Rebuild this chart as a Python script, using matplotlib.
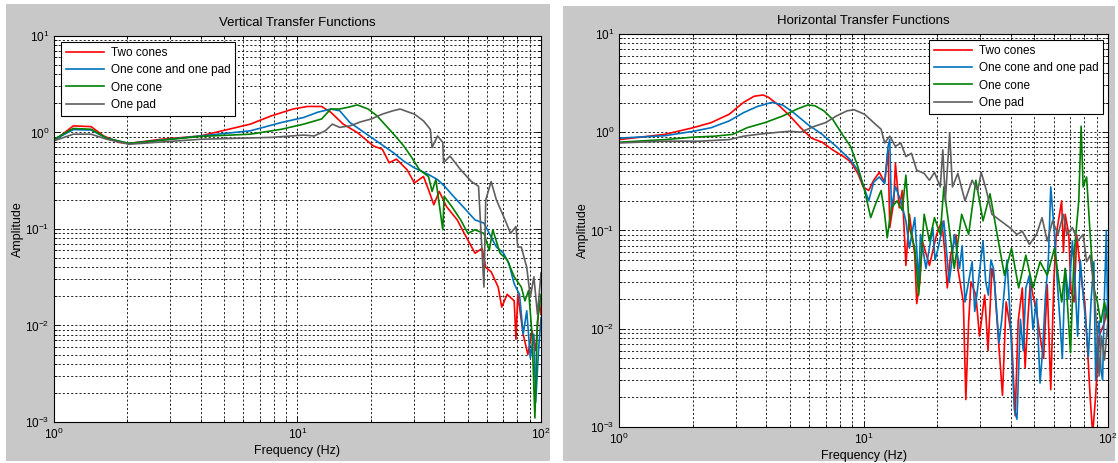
import matplotlib
matplotlib.use('Agg')
import matplotlib.pyplot as plt
from matplotlib.patches import Rectangle
from matplotlib.ticker import NullFormatter, LogLocator

plt.rcParams['font.family'] = ['Liberation Sans', 'DejaVu Sans']
plt.rcParams['mathtext.default'] = 'regular'

labels = ['Two cones', 'One cone and one pad', 'One cone', 'One pad']
colors = ['#ff0000', '#0072bd', '#008000', '#5f5f5f']

# ---- vertical transfer functions ----
v_red_f = [1.0, 1.20, 1.42, 1.60, 1.84, 2.03, 2.75, 3.99, 5.22, 6.40, 7.83, 9.59, 10.97, 12.56, 13.7,
           15.4, 17.6, 20.5, 22.3, 23.8, 25.5, 28.2, 30.2, 32.9, 34.5, 36.3, 38.2, 40.9, 45.3, 48.4,
           53.6, 57.3, 59.3, 62.4, 66.7, 69.0, 72.6, 77.6, 78.9, 80.3, 84.5, 88.3, 91.9, 95.1, 98.3, 100]
v_red_a = [0.82, 1.17, 1.15, 0.92, 0.79, 0.77, 0.85, 0.92, 1.08, 1.22, 1.49, 1.75, 1.86, 1.86, 1.62,
           1.22, 1.0, 0.725, 0.67, 0.486, 0.53, 0.41, 0.30, 0.35, 0.256, 0.178, 0.245, 0.171, 0.124, 0.090,
           0.056, 0.063, 0.040, 0.036, 0.025, 0.0155, 0.021, 0.018, 0.0072, 0.021, 0.0081, 0.005, 0.0088, 0.0055, 0.018, 0.013]

v_blue_f = [1.0, 1.20, 1.42, 1.65, 2.03, 3.99, 6.40, 8.6, 10.6, 12.1, 13.7, 14.9, 16.4, 18.8, 21.5,
            24.7, 27.3, 30.2, 34.5, 37.6, 40.2, 43.7, 48.4, 53.6, 58.3, 61.3, 65.6, 70.2, 73.8, 77.6,
            81.6, 84.5, 87.4, 90.4, 93.5, 95.1, 97.7, 100]
v_blue_a = [0.84, 1.07, 1.06, 0.87, 0.77, 0.92, 1.04, 1.27, 1.43, 1.62, 1.75, 1.68, 1.27, 1.0, 0.79,
            0.62, 0.505, 0.43, 0.367, 0.325, 0.277, 0.218, 0.165, 0.124, 0.115, 0.09, 0.065, 0.056, 0.044, 0.027,
            0.021, 0.0081, 0.0142, 0.0046, 0.0081, 0.0016, 0.0055, 0.012]

v_green_f = [1.0, 1.20, 1.42, 1.65, 2.03, 3.99, 6.40, 8.6, 10.6, 12.56, 13.7, 14.9, 16.2, 17.6, 19.5,
             21.2, 23.8, 25.5, 27.3, 29.2, 31.7, 34.5, 35.7, 37.0, 39.5, 40.0, 43.0, 46.8, 50.1, 53.6,
             58.3, 61.3, 63.4, 67.9, 72.6, 77.6, 83.0, 85.9, 88.9, 91.9, 94.4, 96.7, 100]
v_green_a = [0.85, 1.10, 1.08, 0.87, 0.77, 0.91, 0.96, 1.08, 1.22, 1.38, 1.75, 1.75, 1.83, 1.93, 1.75,
             1.49, 1.08, 0.89, 0.725, 0.57, 0.41, 0.35, 0.245, 0.325, 0.098, 0.218, 0.171, 0.124, 0.09, 0.098,
             0.09, 0.06, 0.098, 0.056, 0.048, 0.032, 0.025, 0.018, 0.023, 0.0081, 0.0011, 0.011, 0.021]

v_grey_f = [1.0, 1.20, 1.42, 1.65, 2.03, 3.99, 7.83, 10.6, 11.7, 13.0, 13.9, 14.9, 16.4, 18.2, 20.1,
            22.3, 24.7, 26.4, 28.7, 30.2, 32.9, 35.1, 35.7, 37.6, 39.5, 39.8, 42.3, 46.8, 51.8, 55.4,
            58.3, 59.3, 62.4, 65.6, 70.2, 75.0, 78.9, 80.3, 83.0, 87.4, 90.4, 93.5, 96.7, 100]
v_grey_a = [0.82, 0.96, 0.96, 0.85, 0.755, 0.85, 0.89, 0.94, 0.92, 1.04, 1.22, 1.13, 1.17, 1.29, 1.38,
            1.55, 1.68, 1.75, 1.62, 1.55, 1.32, 1.08, 0.70, 0.92, 0.79, 0.486, 0.57, 0.41, 0.31, 0.277,
            0.025, 0.2, 0.31, 0.2, 0.135, 0.09, 0.106, 0.065, 0.065, 0.04, 0.0196, 0.032, 0.013, 0.035]

# ---- horizontal transfer functions ----
h_red_f = [1.0, 1.54, 2.01, 2.38, 2.82, 3.23, 3.57, 3.88, 4.08, 4.52, 5.0, 5.53, 6.12, 6.77, 7.48,
           8.28, 8.85, 9.48, 9.97, 10.5, 11.0, 11.6, 12.2, 12.6, 12.8, 13.3, 13.5, 14.0, 14.4, 14.9,
           15.4, 16.2, 16.5, 17.0, 17.4, 18.6, 19.9, 20.9, 21.5, 22.0, 22.7, 23.9, 24.3, 25.6, 26.2,
           26.9, 27.5, 28.8, 29.8, 31.3, 32.3, 33.5, 34.3, 35.2, 37.0, 38.3, 40.3, 41.7, 42.9, 44.6,
           45.8, 46.9, 48.1, 49.3, 51.0, 52.7, 54.5, 56.4, 58.3, 60.0, 61.4, 64.6, 65.7, 66.8, 69.1,
           70.5, 72.6, 74.5, 76.4, 78.0, 80.3, 82.5, 84.5, 86.5, 88.9, 91.9, 96.7, 100]
h_red_a = [0.84, 0.95, 1.11, 1.25, 1.52, 2.01, 2.32, 2.39, 2.27, 1.86, 1.46, 1.11, 0.87, 0.79, 0.66,
           0.565, 0.50, 0.38, 0.277, 0.255, 0.324, 0.39, 0.31, 0.66, 0.107, 0.2, 0.48, 0.17, 0.255, 0.044,
           0.146, 0.056, 0.018, 0.03, 0.078, 0.044, 0.091, 0.125, 0.06, 0.026, 0.056, 0.09, 0.041, 0.0187, 0.0019,
           0.0116, 0.03, 0.022, 0.0084, 0.022, 0.006, 0.041, 0.03, 0.0116, 0.0021, 0.0187, 0.0084, 0.0013, 0.012, 0.026,
           0.004, 0.0116, 0.03, 0.022, 0.015, 0.0084, 0.005, 0.028, 0.0024, 0.03, 0.091, 0.2, 0.06, 0.146, 0.091,
           0.025, 0.0187, 0.09, 0.048, 0.03, 0.0187, 0.006, 0.002, 0.00085, 0.002, 0.0084, 0.0116, 0.0187]

h_blue_f = [1.0, 1.54, 2.01, 2.38, 2.82, 3.23, 3.69, 4.22, 4.67, 5.17, 5.91, 6.77, 7.74, 8.85, 9.48,
            9.97, 10.5, 11.0, 11.6, 12.2, 12.6, 12.8, 13.0, 13.5, 14.2, 14.9, 15.4, 16.2, 16.8, 17.1,
            18.0, 19.2, 19.6, 20.2, 21.3, 22.4, 23.0, 23.5, 24.7, 25.3, 26.0, 27.8, 28.5, 29.3, 30.8,
            31.6, 32.4, 33.2, 34.0, 35.8, 36.7, 37.7, 38.6, 39.6, 41.4, 42.4, 43.8, 45.0, 46.1, 47.7,
            49.3, 51.0, 52.7, 54.0, 55.5, 57.0, 58.3, 60.4, 62.0, 63.5, 65.0, 66.8, 69.0, 71.5, 73.3,
            75.1, 77.0, 79.1, 81.0, 83.1, 85.3, 87.5, 89.0, 90.4, 92.0, 93.5, 95.0, 96.7, 98.4, 100]
h_blue_a = [0.87, 0.92, 1.02, 1.11, 1.30, 1.58, 1.83, 2.01, 1.89, 1.58, 1.2, 0.95, 0.716, 0.52, 0.41,
            0.288, 0.2, 0.31, 0.35, 0.30, 0.716, 0.84, 0.17, 0.28, 0.2, 0.125, 0.066, 0.135, 0.03, 0.091,
            0.041, 0.107, 0.05, 0.066, 0.125, 0.030, 0.05, 0.091, 0.041, 0.07, 0.0187, 0.048, 0.015, 0.026, 0.078,
            0.03, 0.022, 0.05, 0.041, 0.0072, 0.012, 0.026, 0.05, 0.016, 0.0015, 0.0012, 0.0125, 0.006, 0.026, 0.035,
            0.0098, 0.02, 0.0028, 0.006, 0.022, 0.05, 0.277, 0.091, 0.03, 0.0125, 0.005, 0.041, 0.02, 0.078, 0.03,
            0.0084, 0.05, 0.022, 0.012, 0.0052, 0.02, 0.048, 0.003, 0.0084, 0.012, 0.0038, 0.003, 0.022, 0.1, 0.0084]

h_green_f = [1.0, 1.54, 2.01, 2.46, 2.92, 3.34, 3.95, 4.67, 5.35, 5.91, 6.32, 6.88, 7.48, 8.28, 8.85,
             9.48, 10.1, 10.7, 11.2, 11.8, 12.2, 12.5, 13.0, 13.7, 14.4, 14.9, 15.4, 16.2, 16.8, 17.7,
             18.6, 19.5, 20.6, 21.3, 22.4, 23.5, 25.2, 26.9, 28.8, 30.8, 32.9, 35.2, 37.7, 40.3, 43.1,
             46.1, 49.3, 52.7, 56.4, 60.4, 64.6, 66.8, 70.2, 72.6, 75.9, 77.6, 79.1, 81.7, 84.5, 87.5,
             90.4, 93.5, 96.7, 100]
h_green_a = [0.79, 0.84, 0.89, 0.91, 0.95, 1.11, 1.25, 1.46, 1.72, 1.89, 1.86, 1.65, 1.35, 0.91, 0.716,
             0.445, 0.255, 0.135, 0.186, 0.255, 0.146, 0.084, 0.17, 0.2, 0.16, 0.365, 0.107, 0.066, 0.022, 0.146,
             0.078, 0.135, 0.091, 0.277, 0.107, 0.041, 0.146, 0.091, 0.324, 0.125, 0.236, 0.091, 0.035, 0.066, 0.026,
             0.056, 0.026, 0.048, 0.035, 0.066, 0.0187, 0.041, 0.0057, 0.056, 0.2, 1.15, 0.277, 0.35, 0.091, 0.026,
             0.0187, 0.0116, 0.0187, 0.0116]

h_grey_f = [1.0, 1.54, 2.15, 2.82, 3.23, 3.69, 4.52, 5.0, 5.53, 6.32, 6.99, 7.74, 8.57, 9.16, 10.1,
            11.2, 11.8, 12.2, 12.8, 13.5, 14.2, 14.9, 15.7, 16.5, 17.7, 18.6, 19.5, 20.6, 21.1, 21.6,
            22.5, 23.1, 24.3, 26.0, 27.8, 29.3, 30.3, 31.8, 33.5, 36.4, 39.6, 42.4, 44.6, 47.7, 51.0,
            53.7, 56.4, 59.3, 62.4, 65.6, 67.9, 71.5, 75.1, 79.1, 81.7, 84.5, 87.5, 90.4, 91.9, 94.1,
            96.7, 100]
h_grey_a = [0.776, 0.81, 0.81, 0.84, 0.91, 0.95, 1.0, 1.02, 1.0, 1.15, 1.25, 1.46, 1.65, 1.69, 1.52,
            1.2, 1.07, 0.776, 0.91, 0.716, 0.776, 0.565, 0.61, 0.41, 0.38, 0.324, 0.39, 0.277, 0.66, 0.2,
            0.98, 0.277, 0.38, 0.2, 0.324, 0.255, 0.39, 0.255, 0.146, 0.125, 0.107, 0.091, 0.098, 0.072, 0.091,
            0.135, 0.078, 0.125, 0.091, 0.146, 0.091, 0.107, 0.078, 0.091, 0.048, 0.056, 0.026, 0.0084, 0.0033, 0.0084,
            0.0048, 0.0125]

vertical = [(v_red_f, v_red_a), (v_blue_f, v_blue_a), (v_green_f, v_green_a), (v_grey_f, v_grey_a)]
horizontal = [(h_red_f, h_red_a), (h_blue_f, h_blue_a), (h_green_f, h_green_a), (h_grey_f, h_grey_a)]

fig = plt.figure(figsize=(11.18, 4.63), dpi=100, facecolor='white')
fig.patches.append(Rectangle((0.0054, 0.0043), 0.4866, 0.987, transform=fig.transFigure,
                             facecolor='#c8c8c8', edgecolor='none', zorder=-10))
fig.patches.append(Rectangle((0.5036, 0.0043), 0.4937, 0.983, transform=fig.transFigure,
                             facecolor='#c8c8c8', edgecolor='none', zorder=-10))

ax1 = fig.add_axes([0.0483, 0.0886, 0.4356, 0.8337])
ax2 = fig.add_axes([0.5537, 0.0778, 0.4374, 0.849])


def style_axes(ax, title, legend_loc, anchor):
    ax.set_xscale('log')
    ax.set_yscale('log')
    ax.set_xlim(1, 100)
    ax.set_ylim(1e-3, 10)
    ax.set_facecolor('white')
    ax.yaxis.set_major_locator(LogLocator(base=10, numticks=10))
    ax.yaxis.set_minor_locator(LogLocator(base=10, subs=range(2, 10), numticks=10))
    ax.xaxis.set_minor_formatter(NullFormatter())
    ax.yaxis.set_minor_formatter(NullFormatter())
    ax.grid(True, which='both', color='black', linestyle=(0, (2.5, 2.5)), linewidth=0.6)
    ax.tick_params(which='both', direction='in', top=True, right=True, labelsize=8.5, width=0.6)
    ax.tick_params(which='major', length=4)
    ax.tick_params(which='minor', length=2)
    for s in ax.spines.values():
        s.set_linewidth(0.8)
    ax.set_title(title, fontsize=9.5, pad=7)
    ax.set_xlabel('Frequency (Hz)', fontsize=9, labelpad=2)
    ax.set_ylabel('Amplitude', fontsize=9, labelpad=1)
    leg = ax.legend(loc=legend_loc, bbox_to_anchor=anchor, fontsize=8.5, fancybox=False,
                    edgecolor='black', framealpha=1, handlelength=3.2, borderpad=0.4,
                    labelspacing=0.45, handletextpad=0.6, borderaxespad=0.2)
    leg.get_frame().set_linewidth(0.8)


for (f, a), c, lab in zip(vertical, colors, labels):
    ax1.plot(f, a, color=c, linewidth=1.2, label=lab)
for (f, a), c, lab in zip(horizontal, colors, labels):
    ax2.plot(f, a, color=c, linewidth=1.2, label=lab)

style_axes(ax1, 'Vertical Transfer Functions', 'upper left', (0.01, 0.99))
style_axes(ax2, 'Horizontal Transfer Functions', 'upper right', (0.995, 0.99))

fig.savefig('out.png', dpi=100, facecolor='white')
